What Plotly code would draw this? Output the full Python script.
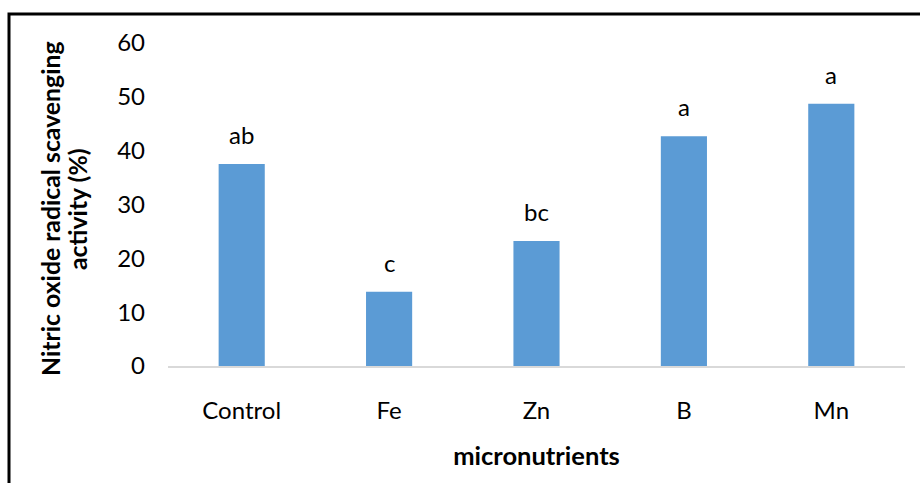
import plotly.graph_objects as go

categories = ["Control", "Fe", "Zn", "B", "Mn"]
values = [37.5, 13.8, 23.2, 42.7, 48.7]
letters = ["ab", "c", "bc", "a", "a"]
y_ticks = [0, 10, 20, 30, 40, 50, 60]
y_title_lines = ["Nitric oxide radical scavenging", "activity (%)"]

FONT = "Lato"
BAR = "#5B9BD5"

fig = go.Figure()
fig.add_trace(go.Bar(x=categories, y=values, marker=dict(color=BAR, line=dict(width=0)),
                     showlegend=False, hoverinfo="skip"))

for c, v, t in zip(categories, values, letters):
    fig.add_annotation(x=c, y=v, text=t, showarrow=False, yanchor="bottom", yshift=13,
                       font=dict(family=FONT, size=24, color="#000000"))

# y-axis title as two rotated lines (tighter line spacing)
for line, px in zip(y_title_lines, [51, 78]):
    fig.add_annotation(xref="paper", yref="paper", x=(px - 168) / 737, y=(366 - 209) / 323,
                       text="<b>" + line + "</b>", textangle=-90, showarrow=False,
                       xanchor="center", yanchor="middle",
                       font=dict(family=FONT, size=24.8, color="#000000"))

fig.update_layout(
    width=920, height=483,
    margin=dict(l=168, r=15, t=43, b=117),
    paper_bgcolor="white", plot_bgcolor="white",
    bargap=0.687,
    font=dict(family=FONT, size=24, color="#000000"),
    xaxis=dict(showgrid=False, showline=True, linecolor="#d9d9d9", linewidth=2,
               ticks="", ticklabelstandoff=22, tickfont=dict(family=FONT, size=24),
               title=dict(text="<b>micronutrients</b>", standoff=24,
                          font=dict(family=FONT, size=25.5))),
    yaxis=dict(range=[0, 60], tickvals=y_ticks, showgrid=False, showline=False,
               zeroline=False, ticks="", ticklabelstandoff=22,
               tickfont=dict(family=FONT, size=24)),
    shapes=[dict(type="rect", xref="paper", yref="paper",
                 x0=(9 - 168) / 737, x1=1.2, y0=-0.6, y1=(366 - 14) / 323,
                 line=dict(color="black", width=3), fillcolor="rgba(0,0,0,0)")],
)

fig.write_html("out.html")
